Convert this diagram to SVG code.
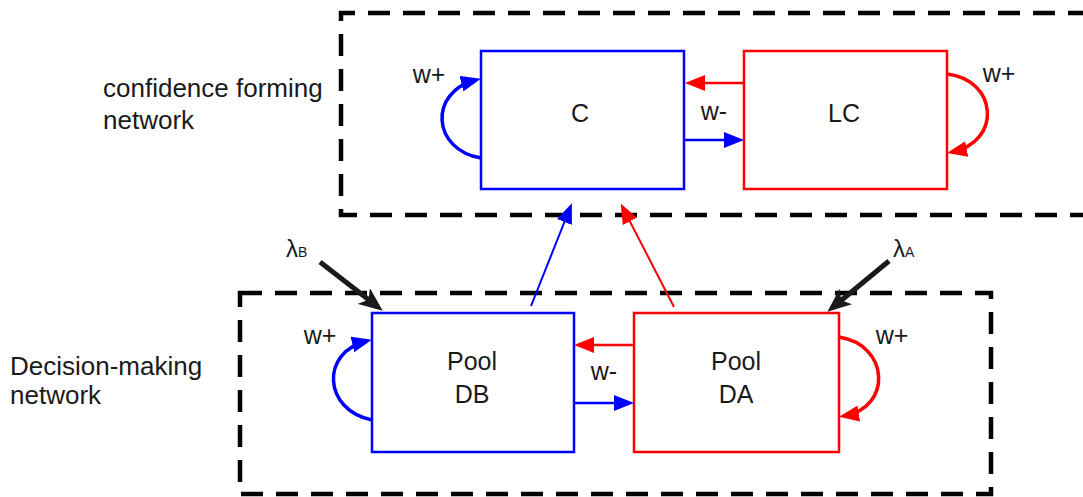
<svg xmlns="http://www.w3.org/2000/svg" width="1083" height="497" viewBox="0 0 1083 497">
<style>
.t{font-family:"Liberation Sans",Arial,sans-serif;fill:#1a1a1a}
.lbl{font-size:26px}
.nd{font-size:25px;text-anchor:middle}
.dash{fill:none;stroke:#000;stroke-width:4.5;stroke-dasharray:22 13}
.bbox{fill:#fff;stroke:#0000ff;stroke-width:2.5}
.rbox{fill:#fff;stroke:#ff0000;stroke-width:2.5}
.bl{fill:none;stroke:#0000ff}
.rl{fill:none;stroke:#ff0000}
</style>
<defs>
<marker id="mb" markerUnits="userSpaceOnUse" viewBox="0 0 20 16" markerWidth="20" markerHeight="16" refX="15" refY="8" orient="auto"><path d="M0,0 L20,8 L0,16 z" fill="#0000ff"/></marker>
<marker id="mr" markerUnits="userSpaceOnUse" viewBox="0 0 20 16" markerWidth="20" markerHeight="16" refX="15" refY="8" orient="auto"><path d="M0,0 L20,8 L0,16 z" fill="#ff0000"/></marker>
<marker id="mk" markerUnits="userSpaceOnUse" viewBox="0 0 24 20" markerWidth="24" markerHeight="20" refX="18" refY="10" orient="auto"><path d="M0,0 L24,10 L0,20 L6,10 z" fill="#1a1a1a"/></marker>
</defs>

<g id="frames">
<path class="dash" d="M1090 13 H341 V215 H1090"/>
<rect class="dash" x="240" y="293" width="751" height="201"/>
</g>

<g id="labels">
<text class="t lbl" x="103" y="97">confidence forming</text>
<text class="t lbl" x="103" y="129">network</text>
<text class="t lbl" x="10" y="375">Decision-making</text>
<text class="t lbl" x="10" y="404">network</text>
</g>

<g id="node-C">
<rect class="bbox" x="481" y="51" width="203" height="138"/>
<text class="t nd" x="580" y="122">C</text>
</g>
<g id="node-LC">
<rect class="rbox" x="744" y="51" width="203" height="138"/>
<text class="t nd" x="844" y="122">LC</text>
</g>
<g id="node-DB">
<rect class="bbox" x="372" y="313" width="202" height="139"/>
<text class="t nd" x="472" y="370">Pool</text>
<text class="t nd" x="472" y="403">DB</text>
</g>
<g id="node-DA">
<rect class="rbox" x="634" y="313" width="205" height="139"/>
<text class="t nd" x="736" y="370">Pool</text>
<text class="t nd" x="736" y="403">DA</text>
</g>

<g id="connectors">
<path class="rl" stroke-width="2.5" d="M744 83 H690" marker-end="url(#mr)"/>
<path class="bl" stroke-width="2.5" d="M684 140 H739" marker-end="url(#mb)"/>
<path class="bl" stroke-width="3.5" d="M481 158 C432 150 428 92 476 80" marker-end="url(#mb)"/>
<path class="rl" stroke-width="3.5" d="M947 74 C998 80 1002 142 952 152" marker-end="url(#mr)"/>
<path class="rl" stroke-width="2.5" d="M634 345 H579" marker-end="url(#mr)"/>
<path class="bl" stroke-width="2.5" d="M574 403 H629" marker-end="url(#mb)"/>
<path class="bl" stroke-width="3.5" d="M372 420 C323 410 320 352 367 341" marker-end="url(#mb)"/>
<path class="rl" stroke-width="3.5" d="M839 337 C890 345 892 408 844 416" marker-end="url(#mr)"/>
<path class="bl" stroke-width="2" d="M531 306 L570 208" marker-end="url(#mb)"/>
<path class="rl" stroke-width="2" d="M674 307 L623 208" marker-end="url(#mr)"/>
<path fill="none" stroke="#1a1a1a" stroke-width="5" d="M320 262 L378 307" marker-end="url(#mk)"/>
<path fill="none" stroke="#1a1a1a" stroke-width="5" d="M889 261 L832 308" marker-end="url(#mk)"/>
</g>

<g id="edge-labels">
<text class="t nd" x="429" y="83">w+</text>
<text class="t nd" x="999" y="82">w+</text>
<text class="t nd" x="714" y="120">w-</text>
<text class="t nd" x="320" y="344">w+</text>
<text class="t nd" x="892" y="344">w+</text>
<text class="t nd" x="604" y="380">w-</text>
<text class="t" x="286" y="257" font-size="24">λ<tspan font-size="14">B</tspan></text>
<text class="t" x="893" y="257" font-size="24">λ<tspan font-size="14">A</tspan></text>
</g>
</svg>
